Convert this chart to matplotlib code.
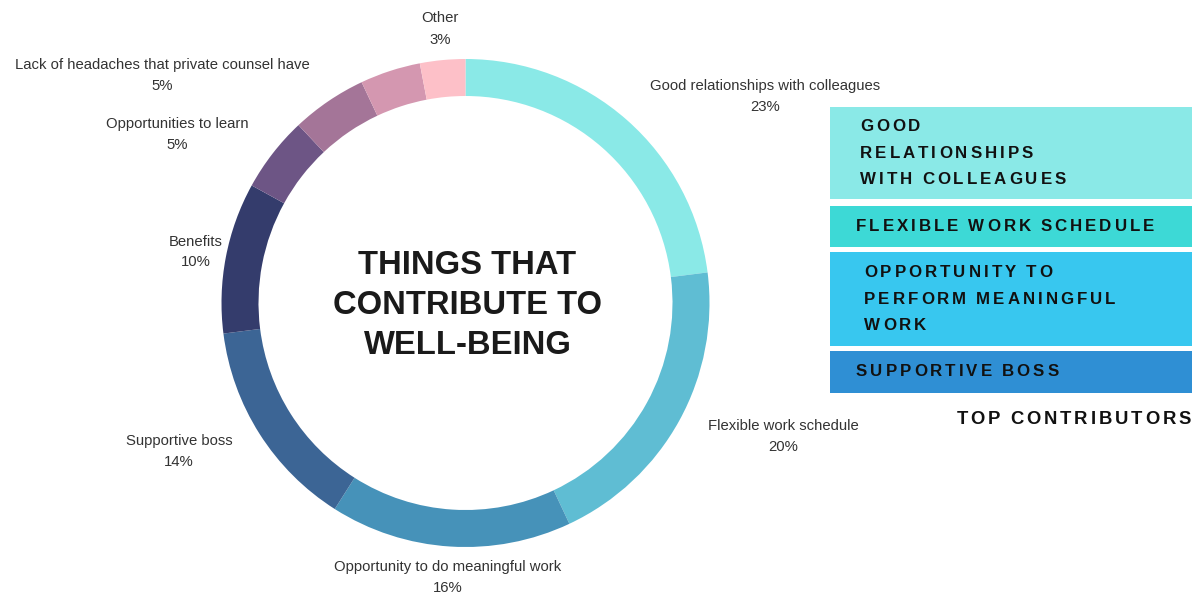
import matplotlib
matplotlib.use("Agg")
import matplotlib.pyplot as plt
from matplotlib.patches import Rectangle
from matplotlib.font_manager import FontProperties, findfont, get_font

W, H = 1194, 598

# ---- data -------------------------------------------------------------
categories = [
    "Good relationships with colleagues",
    "Flexible work schedule",
    "Opportunity to do meaningful work",
    "Supportive boss",
    "Benefits",
    "Opportunities to learn",
    "Lack of headaches that private counsel have",
    "",
    "Other",
]
shares = [23, 20, 16, 14, 10, 5, 5, 4, 3]
colors = ["#8ae9e7", "#5fbdd3", "#4692b9", "#3c6595", "#343c6c",
          "#6d5585", "#a47598", "#d497b0", "#fdc0c8"]

# label anchor points (pixels from top-left), one per category
label_xy = [(765, 96.5), (783, 436.5), (448, 578), (179, 451), (196, 252),
            (177, 134.5), (162, 75.5), None, (440, 29)]

top_items = [
    ["GOOD", "RELATIONSHIPS", "WITH COLLEAGUES"],
    ["FLEXIBLE WORK SCHEDULE"],
    ["OPPORTUNITY TO", "PERFORM MEANINGFUL", "WORK"],
    ["SUPPORTIVE BOSS"],
]
top_colors = ["#8ae9e7", "#3dd9d6", "#38c7ef", "#2f8fd4"]

title_lines = ["THINGS THAT", "CONTRIBUTE TO", "WELL-BEING"]

# ---- figure -----------------------------------------------------------
fig = plt.figure(figsize=(W / 100, H / 100), dpi=100)
ax = fig.add_axes([0, 0, 1, 1])


def Y(y):
    return H - y


cx, cy, R, ring = 465.5, 303, 244, 37
ax.pie(shares, colors=colors, startangle=90, counterclock=False,
       center=(cx, Y(cy)), radius=R, frame=True,
       wedgeprops=dict(width=ring, linewidth=0))
ax.set_xlim(0, W)
ax.set_ylim(0, H)
ax.axis("off")

label_font = dict(family="Liberation Sans", fontsize=10.7, color="#333333")
for name, val, xy in zip(categories, shares, label_xy):
    if xy is None:
        continue
    x, y = xy
    ax.text(x, Y(y - 10.5), name, ha="center", va="center", **label_font)
    ax.text(x, Y(y + 10.5), f"{val}%", ha="center", va="center", **label_font)

# centre title
for i, line in enumerate(title_lines):
    ax.text(cx + 2, Y(266 + 40 * i), line, ha="center", va="center",
            family="Liberation Sans", fontweight="bold", fontsize=23.6,
            color="#1a1a1a")


# ---- letter-spaced text helper ---------------------------------------
def tracked(x, y, s, size, track, space=0.8, align="left", weight="bold",
            family="Liberation Sans", color="#111111"):
    prop = FontProperties(family=family, weight=weight, size=size)
    font = get_font(findfont(prop))
    font.set_size(size, 100)
    steps = []
    for ch in s:
        adv = font.load_char(ord(ch)).linearHoriAdvance / 65536
        steps.append((ch, adv * space if ch == " " else adv))
    total = sum(a for _, a in steps) + track * (len(steps) - 1)
    pen = x - total if align == "right" else x
    for ch, adv in steps:
        if ch != " ":
            ax.text(pen + adv / 2, Y(y), ch, ha="center", va="center",
                    fontproperties=prop, color=color)
        pen += adv + track


# ---- top contributors panel ------------------------------------------
box_x0, box_x1 = 830, 1192
box_rows = [(107, 199), (206, 247), (252, 346), (351, 393)]
text_x = [860, 856, 864, 856]
for lines, col, (y0, y1), tx in zip(top_items, top_colors, box_rows, text_x):
    ax.add_patch(Rectangle((box_x0, Y(y1)), box_x1 - box_x0, y1 - y0,
                           facecolor=col, edgecolor="none"))
    n = len(lines)
    mid = (y0 + y1) / 2
    for i, line in enumerate(lines):
        ly = mid + (i - (n - 1) / 2) * 26.7
        tracked(tx, ly, line, 12.2, 3.0)

tracked(1191, 420, "TOP CONTRIBUTORS", 13.3, 2.9, align="right")

fig.savefig("out.png", dpi=100, facecolor="white")
